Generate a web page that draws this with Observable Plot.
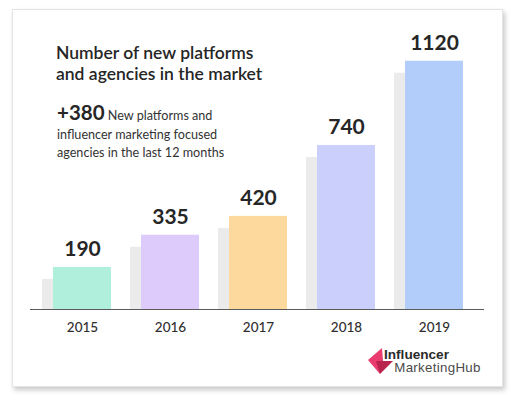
<!DOCTYPE html>
<html>
<head>
<meta charset="utf-8">
<script src="https://cdn.jsdelivr.net/npm/d3@7"></script>
<script src="https://cdn.jsdelivr.net/npm/@observablehq/plot@0.6"></script>
<style>
  html, body { margin: 0; padding: 0; background: #ffffff; }
  #wrap { position: relative; width: 516px; height: 400px; overflow: hidden; font-family: Lato, "Open Sans", sans-serif; }
  #card { position: absolute; left: 12px; top: 9px; width: 489px; height: 376px; background: #fff;
          border: 1px solid #e4e4e4; box-shadow: 2px 3px 5px rgba(0,0,0,0.22); }
  #chart { position: absolute; left: 0; top: 0; }
  #title { position: absolute; left: 56px; top: 42px; font-size: 17.5px; font-weight: 600; line-height: 21px; color: #262626; white-space: nowrap; }
  #sub { position: absolute; left: 57px; top: 103px; font-size: 12.6px; line-height: 18.5px; color: #333; white-space: nowrap; }
  #sub b { font-size: 20.5px; font-weight: 700; color: #262626; }
  #logo { position: absolute; left: 366px; top: 346px; width: 130px; height: 32px; }
</style>
</head>
<body>
<div id="wrap">
  <div id="card"></div>
  <div id="chart"></div>
  <div id="title">Number of new platforms<br>and agencies in the market</div>
  <div id="sub"><b>+380</b> New platforms and<br>influencer marketing focused<br>agencies in the last 12 months</div>
  <svg id="logo" viewBox="0 0 130 32" width="130" height="32">
    <polygon points="2,14 16,2 17,15 14,28" fill="#ea3c6e"/>
    <polygon points="10,15 27,15 14,28" fill="#b8244e"/>
    <text x="18" y="12.7" font-family="Liberation Sans, Arial, sans-serif" font-weight="700" font-size="13.6" fill="#2b2b2b">Influencer</text>
    <text x="28.3" y="26" font-family="Liberation Sans, Arial, sans-serif" font-size="13.3" letter-spacing="0.3" fill="#4a4a4a">MarketingHub</text>
  </svg>
</div>
<script>
const years = ["2015", "2016", "2017", "2018", "2019"];
const values = [190, 335, 420, 740, 1120];
const barColors = ["#b0efdb", "#ddcbfc", "#fdd99e", "#cbcffb", "#b3cdfb"];

const data = years.map((y, i) => ({year: y, value: values[i], color: barColors[i]}));

const chart = Plot.plot({
  width: 516,
  height: 400,
  marginTop: 43,
  marginBottom: 91,
  marginLeft: 30,
  marginRight: 32,
  style: {fontFamily: "Lato, 'Open Sans', sans-serif", background: "transparent", overflow: "visible"},
  x: {domain: years, range: [52, 465], paddingInner: 0.34, paddingOuter: 0, axis: null, label: null},
  y: {domain: [0, 1200], axis: null, label: null},
  marks: [
    Plot.barY(data, {x: "year", y: "value", fill: "#ebebeb", dx: -11, insetTop: 12}),
    Plot.barY(data, {x: "year", y: "value", fill: d => d.color}),
    Plot.ruleY([0], {stroke: "#5a5a5a", strokeWidth: 1.2}),
    Plot.text(data, {x: "year", y: "value", text: d => String(d.value), dy: -11, lineAnchor: "bottom",
                     fontSize: 21, fontWeight: 700, fill: "#262626"}),
    Plot.axisX({tickSize: 0, tickPadding: 13, fontSize: 13.5, fontWeight: 500, color: "#2e2e2e", label: null})
  ]
});
document.getElementById("chart").appendChild(chart);
</script>
</body>
</html>
